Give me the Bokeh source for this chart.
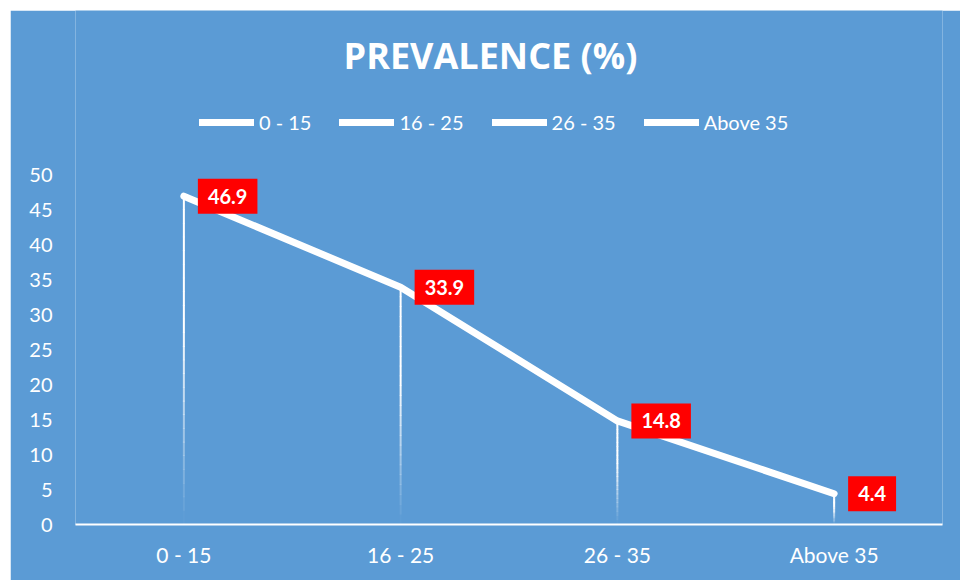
from bokeh.plotting import figure
from bokeh.models import (ColumnDataSource, Range1d, FixedTicker, Label,
                          Legend, LegendItem)
from bokeh.embed import file_html
from bokeh.resources import INLINE

# ---- data ----
categories = ["0 - 15", "16 - 25", "26 - 35", "Above 35"]
prevalence = [46.9, 33.9, 14.8, 4.4]
y_ticks = [0, 5, 10, 15, 20, 25, 30, 35, 40, 45, 50]
title_text = "PREVALENCE (%)"

BLUE = "#5B9BD5"
RED = "#FF0000"
BODY_FONT = "Lato"

xs = [i + 0.5 for i in range(len(categories))]

p = figure(width=950, height=570, margin=(10, 0, 0, 10),
           x_range=Range1d(0, len(categories)), y_range=Range1d(0, 73.43),
           output_backend="svg", toolbar_location=None,
           min_border_left=65, min_border_right=18, min_border_top=0, min_border_bottom=56)
p.background_fill_color = BLUE
p.border_fill_color = BLUE
p.outline_line_color = None
p.xgrid.visible = False
p.ygrid.visible = False

# drop lines fading toward the axis
N = 24
sx0, sy0, sx1, sy1, salpha = [], [], [], [], []
for x, v in zip(xs, prevalence):
    for k in range(N):
        f = (k + 0.5) / N
        sx0.append(x); sx1.append(x)
        sy0.append(v * k / N); sy1.append(v * (k + 1) / N + 0.08)
        salpha.append(min(1.0, max(0.0, f / 0.6)) ** 1.1)
p.segment(x0=sx0, y0=sy0, x1=sx1, y1=sy1, line_color="white", line_width=2,
          line_alpha=salpha)

src = ColumnDataSource(dict(x=xs, y=prevalence))
line_r = p.line("x", "y", source=src, line_color="white", line_width=7,
                line_cap="round", line_join="round")

for x, v in zip(xs, prevalence):
    p.add_layout(Label(x=x, y=v, text=f"{v}", x_offset=14,
                       text_align="left", text_baseline="middle",
                       text_color="white", text_font=BODY_FONT, text_font_style="bold",
                       text_font_size="20px", background_fill_color=RED,
                       padding=10))

# title
p.add_layout(Label(x=(490 - 75) / 216.75, y=(524 - 55) / 7.0, text=title_text,
                   text_align="center", text_baseline="middle", text_color="white",
                   text_font="Open Sans", text_font_style="bold", text_font_size="36px"))

# legend
items = [LegendItem(label=c, renderers=[line_r]) for c in categories]
legend = Legend(items=items, orientation="horizontal", location=(124, 390),
                label_text_color="white", label_text_font=BODY_FONT,
                label_text_font_size="20px", glyph_width=55, glyph_height=20,
                label_standoff=5, spacing=28, padding=0, margin=0,
                background_fill_alpha=0, border_line_color=None)
p.add_layout(legend)

# axes
p.xaxis.ticker = FixedTicker(ticks=xs)
p.xaxis.major_label_overrides = {x: c for x, c in zip(xs, categories)}
p.xaxis.axis_line_color = "white"
p.xaxis.axis_line_width = 2
p.xaxis.major_tick_line_color = None
p.xaxis.minor_tick_line_color = None
p.xaxis.major_label_text_color = "white"
p.xaxis.major_label_text_font = BODY_FONT
p.xaxis.major_label_text_font_size = "21px"
p.xaxis.major_label_standoff = 11

p.yaxis.ticker = FixedTicker(ticks=y_ticks)
p.yaxis.axis_line_color = None
p.yaxis.major_tick_line_color = None
p.yaxis.minor_tick_line_color = None
p.yaxis.major_label_text_color = "white"
p.yaxis.major_label_text_font = BODY_FONT
p.yaxis.major_label_text_font_size = "20px"
p.yaxis.major_label_standoff = 17

open("out.html", "w").write(file_html(p, INLINE))
